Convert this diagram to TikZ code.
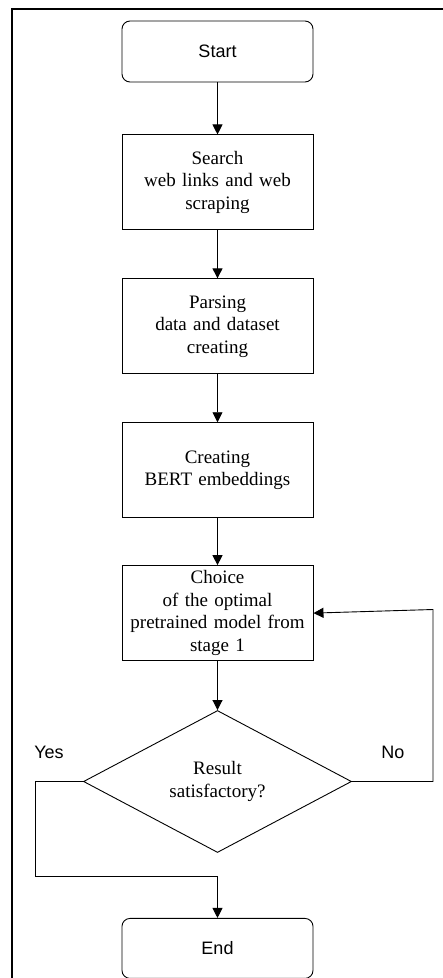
\documentclass[tikz,border=0pt]{standalone}
\usepackage{fontspec}
\setmainfont{Liberation Serif}
\newfontfamily\flowsans{Liberation Sans}
\usetikzlibrary{positioning, shapes.geometric, arrows.meta}

\begin{document}
\begin{tikzpicture}[x=1pt, y=1pt, node distance=48pt,
    every node/.style={font=\fontsize{19}{22.5}\selectfont},
    terminal/.style={draw, line width=0.9pt, rounded corners=8pt, minimum width=191pt, minimum height=61pt, font=\flowsans\fontsize{18}{22}\selectfont},
    stepbox/.style={draw, line width=0.9pt, align=center, minimum width=191pt, minimum height=95pt, text width=175pt},
    decision/.style={draw, line width=0.9pt, diamond, aspect=1.89, inner sep=0pt, minimum width=268pt, minimum height=142pt, align=center},
    flow/.style={-{Triangle[length=10pt, width=10pt]}, line width=0.9pt},
    branch/.style={font=\flowsans\fontsize{18}{22}\selectfont}]
    \useasboundingbox (0,0) rectangle (443,-978);
    \draw[line width=1.8pt] (443,-9) -- (12,-9) -- (12,-978);

    \node[terminal] (start) at (217.5,-51.5) {Start};
    \node[stepbox, below=52pt of start] (search) {Search\\web links and web\\scraping};
    \node[stepbox, below=of search] (parse) {Parsing\\data and dataset\\creating};
    \node[stepbox, below=of parse] (bert) {Creating\\BERT embeddings};
    \node[stepbox, below=47pt of bert] (choice) {Choice\\of the optimal\\pretrained model from\\stage 1};
    \node[decision, below=49pt of choice] (check) {Result\\satisfactory?};
    \node[terminal, below=65pt of check, minimum height=60pt] (finish) {End};

    \coordinate (yesturn) at (35,-876);
    \coordinate (noturn) at (433,-609.5);
    \node[branch] (yes) at (49,-752) {Yes};
    \node[branch] (no) at (393,-752) {No};

    \draw[flow] (start) -- (search);
    \draw[flow] (search) -- (parse);
    \draw[flow] (parse) -- (bert);
    \draw[flow] (bert) -- (choice);
    \draw[flow] (choice) -- (check);
    \draw[flow] (check.west) -| (yesturn) -| (finish.north);
    \draw[flow] (check.east) -| (noturn) -- (choice.east);
  \end{tikzpicture}
\end{document}
